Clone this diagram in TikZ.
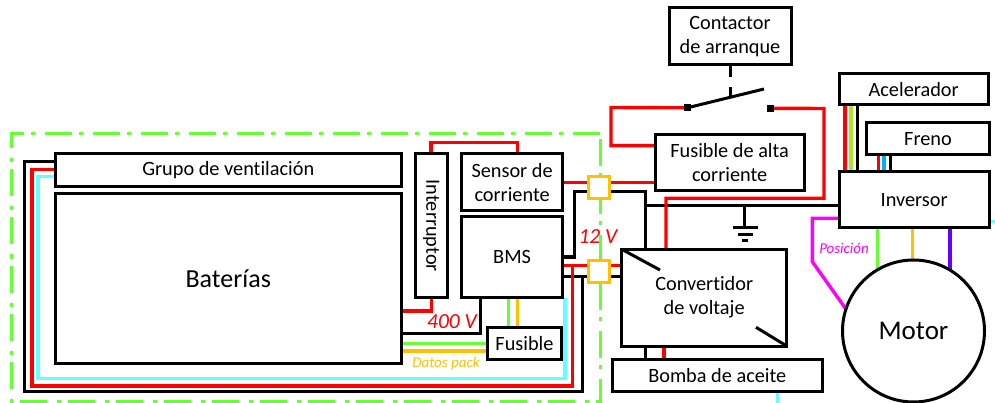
\documentclass[tikz,border=0pt]{standalone}
\usepackage{fontspec}
\setmainfont[Ligatures=CommonOff]{Carlito}
\usetikzlibrary{backgrounds}
\definecolor{cgreen}{RGB}{102,255,51}
\definecolor{cred}{RGB}{255,0,0}
\definecolor{ccyan}{RGB}{102,255,255}
\definecolor{corange}{RGB}{255,192,0}
\definecolor{cmag}{RGB}{255,0,255}
\definecolor{cblue}{RGB}{0,176,240}
\definecolor{clime}{RGB}{170,230,40}
\definecolor{cpurple}{RGB}{102,0,255}
\tikzset{
 bx/.style={draw=black,line width=3pt,fill=white,inner sep=0pt,outer sep=0pt,align=center,font=\fontsize{20.3}{24}\selectfont},
 wire/.style={line width=3.4pt,line join=miter},
 kw/.style={line width=3pt,line join=miter,black},
 kr/.style={wire,cred},
 kc/.style={wire,ccyan},
 kg/.style={wire,cgreen},
 ko/.style={wire,corange},
 orbox/.style={draw=corange,line width=3pt,fill=white,minimum width=21.5pt,minimum height=22pt,inner sep=0pt,outer sep=0pt},
 lab/.style={font=\fontsize{15}{18}\selectfont\itshape,inner sep=0pt},
 term/.style={fill=black,minimum size=7pt,inner sep=0pt,outer sep=0pt},
}
\newcommand{\bxat}[7][]{\node[bx,anchor=north west,minimum width=#4pt-#2pt,minimum height=#5pt-#3pt,#1] (#6) at (#2,#3) {#7};}
\begin{document}
\begin{tikzpicture}[x=1pt,y=-1pt]
\useasboundingbox (0,0) rectangle (995,403);
% boxes
\bxat{55.5}{154}{401}{186.7}{grupo}{Grupo de ventilación}
\bxat[font=\fontsize{26}{31}\selectfont]{55.5}{194}{401}{363.3}{bat}{Baterías}
\bxat{415}{154}{447.3}{297.7}{int}{\rotatebox{-90}{Interruptor}}
\bxat{461.7}{154}{562.5}{210.7}{sens}{Sensor de\\corriente}
\bxat{461.7}{216.7}{562.5}{297.7}{bms}{BMS}
\bxat{487.3}{327.3}{561.7}{359.3}{fus}{Fusible}
\bxat{669}{8}{791}{64.3}{cont}{Contactor\\de arranque}
\bxat{655}{134.3}{804.3}{190.7}{fal}{Fusible de alta\\corriente}
\bxat{621.7}{249.3}{786.7}{346}{conv}{Convertidor\\de voltaje}
\bxat{612.3}{359.3}{822.3}{391.7}{bomba}{Bomba de aceite}
\bxat{839}{73.3}{988.3}{105}{acel}{Acelerador}
\bxat{866.7}{122.3}{989.3}{155}{freno}{Freno}
\bxat{839}{171.7}{989.3}{227.7}{inv}{Inversor}
\node[bx,circle,minimum size=142pt,font=\fontsize{27}{32}\selectfont] (motor) at (913.5,331) {Motor};
\node[orbox] (ou) at (599.2,187.8) {};
\node[orbox] (ol) at (599.2,271.8) {};
\node[term] (s1) at (687.3,107.8) {};
\node[term] (s2) at (770.3,108.3) {};
\coordinate (gnd) at (744.3,228);
% diagonals of the converter and ground, on top
\draw[kw] (conv.north west) -- (660,270);
\draw[kw] (756,327.3) -- (conv.south east);
\draw[kw] (744.3,205.5) -- (gnd);
\draw[kw] (732.7,228) -- (758.3,228) (738,234.3) -- (752.7,234.3);
\draw[kw] (742,241) -- (748.3,241);
% switch
\draw[kw] (cont.south -| 730,0) -- (730,77);
\draw[kw] (730,87.3) -- (730,97.3);
\draw[kw] (s1.center) -- (764,89);
\begin{pgfonlayer}{background}
% frame
\draw[cgreen,line width=3pt,dash pattern=on 27pt off 10pt on 4pt off 7pt] (600,134) -- (11.5,134) -- (11.5,401.5) -- (600,401.5) -- cycle;
% wires around the pack
\draw[kw] (grupo.west |- 0,161.5) -- (24.5,161.5) -- (24.5,391.7) -- (582.6,391.7) -- (582.6,276.5);
\draw[kw] (bms.east |- 0,276.5) -- (ol.west |- 0,276.5);
\draw[kr] (grupo.west |- 0,169.5) -- (32,169.5) -- (32,386) -- (572.3,386) -- (572.3,265.7);
\draw[kr] (bms.east |- 0,265.7) -- (ol.west |- 0,265.7);
\draw[kc] (grupo.west |- 0,176.7) -- (38,176.7) -- (38,378.3) -- (565,378.3) -- (565,297.7);
\draw[kr] (int.north -| 431,0) -- (431,142.7) -- (517.3,142.7) -- (517.3,154);
\draw[kr] (bat.east |- 0,311) -- (431.7,311) -- (431.7,297.7);
\draw[kw] (bat.east |- 0,333.3) -- (480,333.3) -- (480,297.7);
\draw[kg] (bat.east |- 0,343.3) -- (fus.west |- 0,343.3);
\draw[ko] (bat.east |- 0,351) -- (fus.west |- 0,351);
\draw[kg] (508.3,297.7) -- (508.3,327.3);
\draw[ko] (517.7,297.7) -- (517.7,327.3);
\draw[kr] (sens.east |- 0,182.5) -- (ou.west |- 0,182.5);
\draw[kr] (ou.east |- 0,182.5) -- (fal.west |- 0,182.5);
\draw[kw] (ou.west |- 0,191.7) -- (574.3,191.7) -- (574.3,257) -- (bms.east |- 0,257);
\draw[kw] (ou.east |- 0,191.7) -- (645,191.7) -- (645,249.3);
\draw[kw] (645,205.5) -- (inv.west |- 0,205.5);
\draw[kr] (ol.east |- 0,265.7) -- (conv.west |- 0,265.7);
\draw[kw] (ol.east |- 0,276.5) -- (conv.west |- 0,276.5);
\draw[kr] (s1.west) -- (611,107.5) -- (611,145.7) -- (fal.west |- 0,145.7);
\draw[kr] (s2.east) -- (824,108.5) -- (824,198.3) -- (666,198.3) -- (666,249.3);
\draw[kw] (645,346) -- (645,359.3);
\draw[kr] (664,346) -- (664,359.3);
\draw[kc] (777.3,391.7) -- (777.3,403);
% accelerator, brake
\draw[kr] (845,105) -- (845,171.7);
\draw[wire,clime] (851,105) -- (851,171.7);
\draw[kw] (857.3,105) -- (857.3,171.7);
\draw[kr] (878.3,155) -- (878.3,171.7);
\draw[wire,cblue] (884,155) -- (884,171.7);
\draw[kw] (890,155) -- (890,171.7);
% inverter to motor
\draw[kg] (877.7,227.7) -- (877.7,275);
\draw[ko] (912.7,227.7) -- (912.7,265);
\draw[wire,cpurple] (950,227.7) -- (950,275);
\draw[wire,cmag] (inv.west |- 0,218.3) -- (812.3,218.3) -- (812.3,261.7) -- (848,312);
\draw[kc] (inv.east |- 0,221.7) -- (995,221.7);
\end{pgfonlayer}
% labels
\node[lab,cred,font=\fontsize{21.5}{25}\selectfont\itshape] (l400) at (452,321.7) {400 V};
\node[lab,cred,font=\fontsize{21.5}{25}\selectfont\itshape] (l12) at (598,237) {12 V};
\node[lab,corange] (ldat) at (446,363.5) {Datos pack};
\node[lab,cmag] (lpos) at (844,248) {Posición};
\end{tikzpicture}
\end{document}
